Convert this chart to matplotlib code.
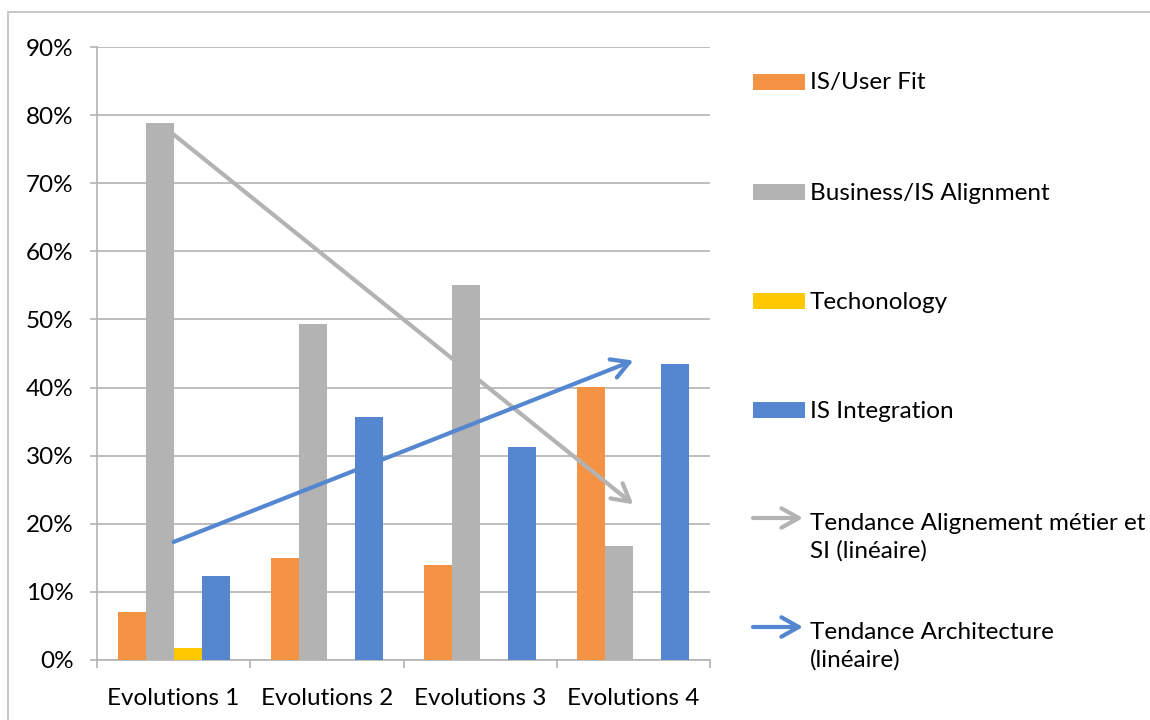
import numpy as np
import matplotlib
matplotlib.use("Agg")
import matplotlib.pyplot as plt
from matplotlib.patches import Rectangle
from matplotlib.ticker import PercentFormatter

categories = ["Evolutions 1", "Evolutions 2", "Evolutions 3", "Evolutions 4"]
series_names = ["IS/User Fit", "Business/IS Alignment", "Techonology", "IS Integration"]
is_user_fit = [0.071, 0.150, 0.139, 0.401]
business_is_alignment = [0.789, 0.494, 0.550, 0.167]
technology = [0.018, 0.0, 0.0, 0.0]
is_integration = [0.123, 0.357, 0.312, 0.434]
trend_names = ["Tendance Alignement métier et\nSI (linéaire)", "Tendance Architecture\n(linéaire)"]
y_ticks = [0, 0.1, 0.2, 0.3, 0.4, 0.5, 0.6, 0.7, 0.8, 0.9]

colors = ["#F39343", "#B3B3B3", "#FFC800", "#5587D1"]
grid_col = "#B3B3B3"
FONT = "Lato"
FS = 17.5
ARROW = "->,head_length=1.25,head_width=0.7"

W, H = 1150, 720
fig = plt.figure(figsize=(W / 100, H / 100), dpi=100)
ax = fig.add_axes([97 / W, 1 - 660 / H, (710 - 97) / W, (660 - 47) / H])

all_series = [is_user_fit, business_is_alignment, technology, is_integration]
x = np.arange(len(categories))
bw = 0.183
for i, (vals, c) in enumerate(zip(all_series, colors)):
    ax.bar(x + (i - 1.5) * bw, vals, width=bw, color=c, zorder=3, linewidth=0)

# linear trend lines
for vals, c in [(business_is_alignment, colors[1]), (is_integration, colors[3])]:
    slope, inter = np.polyfit(x, vals, 1)
    x0, x1 = x[0], x[-1]
    ax.annotate("", xy=(x1, slope * x1 + inter), xytext=(x0, slope * x0 + inter),
                arrowprops=dict(arrowstyle=ARROW, color=c, lw=3.0, shrinkA=0, shrinkB=0,
                                capstyle="round", joinstyle="round"),
                zorder=4)

ax.set_xlim(-0.5, len(categories) - 0.5)
ax.set_ylim(0, 0.9)
ax.set_yticks(y_ticks)
ax.yaxis.set_major_formatter(PercentFormatter(1.0, decimals=0))
ax.set_xticks(x)
ax.set_xticklabels(categories, fontsize=FS, family=FONT)
ax.set_xticks(np.arange(len(categories) + 1) - 0.5, minor=True)
ax.tick_params(axis="x", which="major", length=0, pad=20)
ax.tick_params(axis="x", which="minor", length=6, color=grid_col, width=1.2)
ax.tick_params(axis="y", length=5, color=grid_col, width=1.2, pad=12,
               labelsize=FS)
for lab in ax.get_yticklabels():
    lab.set_family(FONT)
ax.grid(axis="y", color=grid_col, lw=1.2, zorder=0)
for s in ["top", "right"]:
    ax.spines[s].set_visible(False)
for s in ["left", "bottom"]:
    ax.spines[s].set_color(grid_col)
    ax.spines[s].set_linewidth(1.2)

# outer border
fig.patches.append(Rectangle((8 / W, -0.1), 1.2, 1.1 - 12 / H, transform=fig.transFigure,
                             fill=False, edgecolor="#BDBDBD", lw=1.2))

# legend (manual)
def fy(py):
    return 1 - py / H

leg_y = [82, 192, 301, 410]
for name, c, py in zip(series_names, colors, leg_y):
    fig.patches.append(Rectangle((753 / W, fy(py + 8)), 52 / W, 16 / H,
                                 transform=fig.transFigure, color=c, lw=0))
    fig.text(810 / W, fy(py + 1), name, fontsize=FS, family=FONT, va="center", ha="left")

arrow_y = [518, 627]
text_y = [537, 646]
for name, c, py, ty in zip(trend_names, [colors[1], colors[3]], arrow_y, text_y):
    fig.add_artist(matplotlib.patches.FancyArrowPatch(
        (753 / W, fy(py)), (803 / W, fy(py)), transform=fig.transFigure,
        arrowstyle=ARROW, color=c, lw=3.0, shrinkA=0, shrinkB=0,
        mutation_scale=10, capstyle="round", joinstyle="round"))
    fig.text(810 / W, fy(ty), name, fontsize=FS, family=FONT, va="center", ha="left",
             linespacing=1.37)

fig.savefig("out.png", dpi=100)
